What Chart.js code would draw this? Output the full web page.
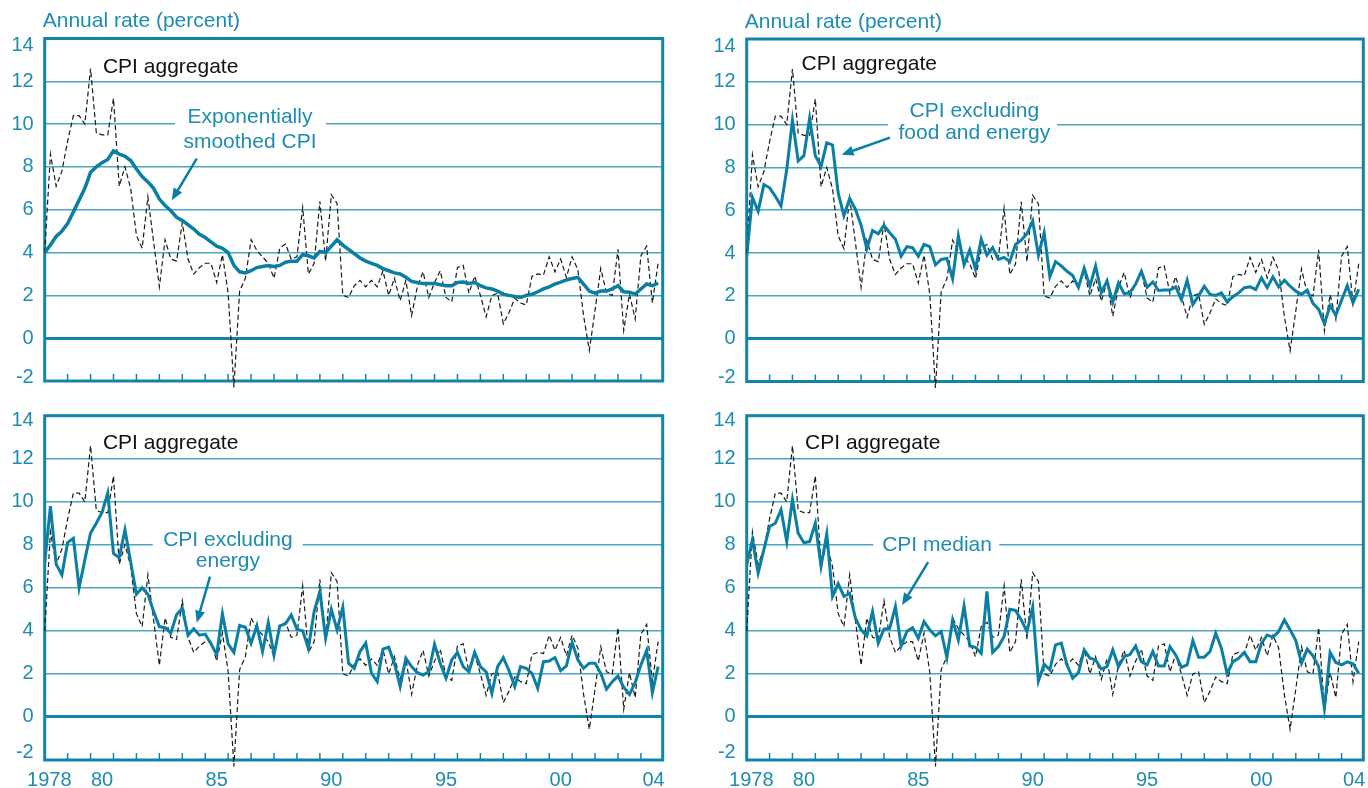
<!DOCTYPE html>
<html>
<head>
<meta charset="utf-8">
<script src="https://cdn.jsdelivr.net/npm/chart.js@4"></script>
<style>
  html, body { margin: 0; padding: 0; background: #fff; }
  #wrap { position: relative; width: 1368px; height: 788px; }
  canvas { position: absolute; }
</style>
</head>
<body>
<div id="wrap">
  <canvas id="c1" width="684" height="395" style="left:0;top:0"></canvas>
  <canvas id="c2" width="684" height="395" style="left:684px;top:0"></canvas>
  <canvas id="c3" width="684" height="393" style="left:0;top:395px"></canvas>
  <canvas id="c4" width="684" height="393" style="left:684px;top:395px"></canvas>
</div>
<script>
// quarterly observations, 1978Q1 - 2004Q4
const quarters = []
for (let y = 1978; y <= 2004; y++) for (let q = 0; q < 4; q++) quarters.push(y + q / 4)

const cpiAggregate = [
  4.0, 8.6, 7.1, 7.8, 9.2, 10.4, 10.4, 10.0, 12.6, 9.6,
  9.5, 9.5, 11.2, 7.1, 8.0, 7.0, 4.8, 4.2, 6.6, 4.5,
  2.4, 4.6, 3.7, 3.6, 5.4, 3.7, 3.0, 3.3, 3.5, 3.5,
  2.6, 3.9, 2.1, -2.3, 2.2, 2.8, 4.6, 4.1, 3.8, 3.5,
  2.8, 4.2, 4.4, 3.7, 3.8, 6.1, 3.0, 3.5, 6.4, 3.6,
  6.7, 6.3, 2.0, 1.9, 2.45, 2.7, 2.4, 2.7, 2.4, 3.15,
  2.0, 2.8, 1.75, 2.7, 1.05, 2.4, 3.1, 1.9, 2.6, 3.15,
  1.9, 1.7, 3.3, 3.4, 2.1, 2.9, 2.0, 1.0, 2.0, 2.1,
  0.67, 1.2, 1.86, 1.64, 1.55, 2.9, 3.0, 2.95, 3.8, 3.1,
  3.7, 2.84, 3.8, 3.2, 1.05, -0.57, 1.3, 3.26, 2.1, 2.0,
  4.15, 0.36, 2.06, 0.9, 3.85, 4.3, 1.64, 3.5
]

const cpiSmoothed = [
  4.0, 4.35, 4.75, 5.0, 5.35, 5.9, 6.45, 7.0, 7.75, 8.0,
  8.2, 8.35, 8.75, 8.6, 8.5, 8.3, 7.9, 7.55, 7.3, 7.0,
  6.5, 6.2, 5.95, 5.65, 5.5, 5.3, 5.1, 4.85, 4.7, 4.5,
  4.3, 4.2, 4.0, 3.4, 3.1, 3.05, 3.15, 3.3, 3.35, 3.4,
  3.35, 3.4, 3.55, 3.6, 3.6, 3.9, 3.85, 3.75, 4.05, 4.0,
  4.3, 4.6, 4.35, 4.15, 3.95, 3.75, 3.6, 3.5, 3.4, 3.25,
  3.15, 3.05, 3.0, 2.85, 2.65, 2.6, 2.55, 2.55, 2.55, 2.5,
  2.45, 2.45, 2.6, 2.62, 2.56, 2.6, 2.45, 2.35, 2.3, 2.2,
  2.06, 2.0, 1.95, 1.9, 2.0, 2.05, 2.17, 2.3, 2.4, 2.53,
  2.62, 2.72, 2.79, 2.84, 2.53, 2.2, 2.1, 2.2, 2.2, 2.3,
  2.45, 2.17, 2.15, 2.06, 2.3, 2.53, 2.45, 2.57
]

const cpiExFoodEnergy = [
  3.85, 6.6, 5.95, 7.2, 7.05, 6.65, 6.2, 7.9, 10.2, 8.3,
  8.55, 10.3, 8.55, 8.05, 9.15, 9.05, 6.8, 5.75, 6.55, 6.05,
  5.3, 4.2, 5.05, 4.9, 5.3, 4.95, 4.65, 3.85, 4.3, 4.25,
  3.85, 4.4, 4.3, 3.45, 3.7, 3.75, 2.8, 4.8, 3.45, 4.15,
  3.25, 4.65, 3.9, 4.25, 3.7, 3.8, 3.6, 4.4, 4.6, 4.9,
  5.5, 3.9, 4.95, 2.9, 3.6, 3.4, 3.15, 2.95, 2.4, 3.3,
  2.45, 3.4, 2.15, 2.7, 1.7, 2.6, 2.1, 2.15, 2.55, 3.15,
  2.4, 2.65, 2.25, 2.27, 2.27, 2.42, 1.83, 2.73, 1.6, 2.0,
  2.45, 2.07, 2.02, 2.14, 1.71, 1.96, 2.14, 2.38, 2.42, 2.3,
  2.84, 2.38, 2.89, 2.42, 2.73, 2.45, 2.22, 2.07, 2.27, 1.65,
  1.37, 0.71, 1.55, 1.09, 1.8, 2.48, 1.68, 2.3
]

const cpiExEnergy = [
  7.15, 9.8, 7.1, 6.6, 8.1, 8.3, 6.0, 7.3, 8.55, 9.0,
  9.5, 10.4, 7.6, 7.4, 8.7, 7.2, 5.7, 6.0, 5.7, 4.9,
  4.2, 4.15, 3.9, 4.75, 5.05, 3.8, 4.1, 3.8, 3.85, 3.4,
  2.9, 4.8, 3.4, 3.0, 4.25, 4.17, 3.43, 4.23, 3.04, 4.39,
  2.88, 4.23, 4.33, 4.74, 4.08, 4.0, 3.19, 4.9, 5.83, 3.66,
  5.0, 4.05, 5.1, 2.5, 2.26, 3.04, 3.43, 2.03, 1.64, 3.15,
  3.24, 2.5, 1.41, 2.73, 2.34, 2.06, 1.95, 2.1, 3.38, 2.5,
  1.8, 2.65, 3.0, 2.34, 2.1, 3.0, 2.34, 2.1, 1.1, 2.34,
  2.76, 2.15, 1.41, 2.34, 2.26, 2.03, 1.33, 2.57, 2.6, 2.76,
  2.15, 2.37, 3.46, 2.65, 2.26, 2.5, 2.5, 2.03, 1.29, 1.64,
  1.9, 1.38, 1.05, 1.6, 2.42, 3.09, 1.13, 2.34
]

const cpiMedian = [
  7.07, 8.23, 6.68, 7.77, 8.85, 9.0, 9.63, 8.15, 10.1, 8.54,
  8.1, 8.15, 9.0, 7.0, 8.5, 5.6, 6.19, 5.6, 5.75, 4.6,
  4.05, 3.77, 4.9, 3.43, 4.08, 4.12, 5.13, 3.3, 3.97, 4.15,
  3.66, 4.43, 4.05, 3.77, 3.97, 2.76, 4.51, 3.58, 5.16, 3.3,
  3.24, 2.96, 5.83, 3.0, 3.27, 3.74, 5.0, 4.95, 4.51, 3.97,
  5.1, 1.67, 2.45, 2.19, 3.35, 3.43, 2.42, 1.8, 2.06, 3.12,
  2.73, 2.65, 2.22, 2.34, 3.12, 2.34, 2.8, 2.9, 3.3, 2.57,
  2.42, 3.04, 2.37, 2.37, 3.27, 2.88, 2.31, 2.42, 3.55, 2.78,
  2.78, 3.04, 3.89, 3.19, 2.0, 2.57, 2.73, 3.0, 2.57, 2.57,
  3.43, 3.81, 3.7, 3.97, 4.51, 4.05, 3.55, 2.5, 3.15, 2.84,
  2.34, 0.4, 3.0, 2.53, 2.42, 2.56, 2.47, 2.03
]

const yTicks = [-2, 0, 2, 4, 6, 8, 10, 12, 14]
const xLabels = ['1978', '80', '85', '90', '95', '00', '04']
const xLabelAt = [1978.2, 1980.5, 1985.5, 1990.5, 1995.5, 2000.5, 2004.55]

const TEAL = '#0b7fa3'
const TEXT = '#1d8cb0'
const GRID = '#4ea6c2'
const EDGE = '#1483a8'
const FONT = "'Liberation Sans', Arial, Helvetica, sans-serif"

Chart.defaults.font.family = FONT

const toXY = (vals) => vals.map((v, i) => ({ x: quarters[i], y: v }))

const px = (chart, x, y) => [chart.scales.x.getPixelForValue(x), chart.scales.y.getPixelForValue(y)]

const decor = {
  id: 'decor',
  beforeDatasetsDraw(chart, args, o) {
    const ctx = chart.ctx
    const a = chart.chartArea
    ctx.save()
    if (o.gap) {
      const [x0, y0] = px(chart, o.gap[0], o.gap[3])
      const [x1, y1] = px(chart, o.gap[1], o.gap[2])
      ctx.fillStyle = '#fff'
      ctx.fillRect(x0, y0, x1 - x0, y1 - y0)
    }
    // year ticks pointing into the plot
    ctx.strokeStyle = EDGE
    ctx.lineWidth = 1.5
    for (let y = 1979; y <= 2004; y++) {
      const x = chart.scales.x.getPixelForValue(y)
      ctx.beginPath()
      ctx.moveTo(x, a.bottom)
      ctx.lineTo(x, a.bottom - 7)
      ctx.stroke()
    }
    ctx.lineWidth = 3
    ctx.strokeRect(a.left, a.top, a.right - a.left, a.bottom - a.top)
    ctx.restore()
  },
  afterDatasetsDraw(chart, args, o) {
    const ctx = chart.ctx
    const a = chart.chartArea
    ctx.save()
    ctx.font = '21px ' + FONT
    ctx.textBaseline = 'middle'
    if (o.units) {
      ctx.fillStyle = TEXT
      ctx.textAlign = 'left'
      ctx.fillText('Annual rate (percent)', a.left - 2, a.top - 17)
    }
    for (const t of o.texts) {
      const [x, y] = px(chart, t.x, t.y)
      ctx.fillStyle = t.color
      ctx.textAlign = t.align
      ctx.fillText(t.text, x, y)
    }
    if (o.arrow) {
      const [x0, y0] = px(chart, o.arrow[0], o.arrow[1])
      const [x1, y1] = px(chart, o.arrow[2], o.arrow[3])
      const ang = Math.atan2(y1 - y0, x1 - x0)
      const hl = 12, hw = 5
      const bx = x1 - hl * Math.cos(ang), by = y1 - hl * Math.sin(ang)
      ctx.strokeStyle = TEAL
      ctx.fillStyle = TEAL
      ctx.lineWidth = 2.5
      ctx.beginPath()
      ctx.moveTo(x0, y0)
      ctx.lineTo(bx, by)
      ctx.stroke()
      ctx.beginPath()
      ctx.moveTo(x1, y1)
      ctx.lineTo(bx + hw * Math.sin(ang), by - hw * Math.cos(ang))
      ctx.lineTo(bx - hw * Math.sin(ang), by + hw * Math.cos(ang))
      ctx.closePath()
      ctx.fill()
    }
    ctx.restore()
  }
}

const makePanel = (id, series, smooth, box, showX, note) => {
  new Chart(document.getElementById(id), {
    type: 'line',
    data: {
      datasets: [{
        data: toXY(series),
        borderColor: TEAL,
        borderWidth: smooth ? 3.5 : 3,
        pointRadius: 0,
        tension: 0
      }, {
        data: toXY(cpiAggregate),
        borderColor: '#1a1a1a',
        borderWidth: 1.2,
        borderDash: [5, 3],
        pointRadius: 0,
        tension: 0,
        clip: false
      }]
    },
    options: {
      responsive: false,
      animation: false,
      layout: { padding: { left: 0, top: box.top, right: box.right, bottom: 0 } },
      plugins: { legend: { display: false }, tooltip: { enabled: false }, decor: note },
      scales: {
        x: {
          type: 'linear',
          min: 1978,
          max: 2004.95,
          afterFit: (s) => { s.height = box.xh; s.paddingLeft = 0; s.paddingRight = 0 },
          afterBuildTicks: (s) => { s.ticks = xLabelAt.map((v) => ({ value: v })) },
          grid: { display: false },
          border: { display: false },
          ticks: {
            display: showX,
            autoSkip: false,
            maxRotation: 0,
            padding: 0,
            color: TEXT,
            font: { size: 20 },
            callback: (v) => xLabels[xLabelAt.indexOf(v)]
          }
        },
        y: {
          min: -2,
          max: 14,
          afterFit: (s) => { s.width = box.yw; s.paddingTop = 0; s.paddingBottom = 0 },
          afterBuildTicks: (s) => { s.ticks = yTicks.map((v) => ({ value: v })) },
          border: { display: false },
          grid: {
            drawTicks: false,
            color: (c) => c.tick.value === 0 ? EDGE : GRID,
            lineWidth: (c) => c.tick.value === 0 ? 3 : 1.6
          },
          ticks: {
            padding: 11,
            color: TEXT,
            // end labels sit a little inside the frame, as in the original
            font: (c) => {
              const v = c.tick ? c.tick.value : 0
              if (v === 14) return { size: 20, lineHeight: box.topShift * 2 / 20 }
              if (v === -2) return { size: 20, lineHeight: box.botShift * 2 / 20 }
              return { size: 20 }
            },
            callback: (v) => v === 14 ? ['', '14'] : v === -2 ? ['-2', ''] : String(v)
          }
        }
      }
    },
    plugins: [decor]
  })
}

makePanel('c1', cpiSmoothed, true,
  { top: 38.5, right: 21.3, xh: 14, yw: 44.7, topShift: 7, botShift: 4 }, false, {
    units: true,
    gap: [1983.68, 1990.27, 8.6, 11.0],
    arrow: [1984.63, 8.39, 1983.54, 6.44],
    texts: [
      { text: 'CPI aggregate', x: 1980.54, y: 12.67, align: 'left', color: '#111' },
      { text: 'Exponentially', x: 1986.95, y: 10.31, align: 'center', color: TEXT },
      { text: 'smoothed CPI', x: 1986.95, y: 9.15, align: 'center', color: TEXT }
    ]
  })

makePanel('c2', cpiExFoodEnergy, false,
  { top: 39, right: 4.7, xh: 13.5, yw: 62.7, topShift: 7, botShift: 4 }, false, {
    units: true,
    gap: [1984.17, 1991.56, 9.0, 11.2],
    arrow: [1984.26, 9.39, 1982.15, 8.59],
    texts: [
      { text: 'CPI aggregate', x: 1980.4, y: 12.81, align: 'left', color: '#111' },
      { text: 'CPI excluding', x: 1987.95, y: 10.64, align: 'center', color: TEXT },
      { text: 'food and energy', x: 1987.95, y: 9.61, align: 'center', color: TEXT }
    ]
  })

makePanel('c3', cpiExEnergy, false,
  { top: 20.7, right: 21.3, xh: 28, yw: 44.7, topShift: 5, botShift: 8 }, true, {
    units: false,
    gap: [1982.71, 1989.25, 6.9, 8.8],
    arrow: [1985.21, 6.52, 1984.63, 4.38],
    texts: [
      { text: 'CPI aggregate', x: 1980.54, y: 12.71, align: 'left', color: '#111' },
      { text: 'CPI excluding', x: 1985.99, y: 8.22, align: 'center', color: TEXT },
      { text: 'energy', x: 1985.99, y: 7.25, align: 'center', color: TEXT }
    ]
  })

makePanel('c4', cpiMedian, false,
  { top: 20.7, right: 4.7, xh: 28, yw: 62.7, topShift: 5, botShift: 8 }, true, {
    units: false,
    gap: [1983.53, 1989.04, 7.4, 8.6],
    arrow: [1985.93, 7.2, 1984.79, 5.2],
    texts: [
      { text: 'CPI aggregate', x: 1980.55, y: 12.73, align: 'left', color: '#111' },
      { text: 'CPI median', x: 1986.32, y: 7.99, align: 'center', color: TEXT }
    ]
  })
</script>
</body>
</html>
